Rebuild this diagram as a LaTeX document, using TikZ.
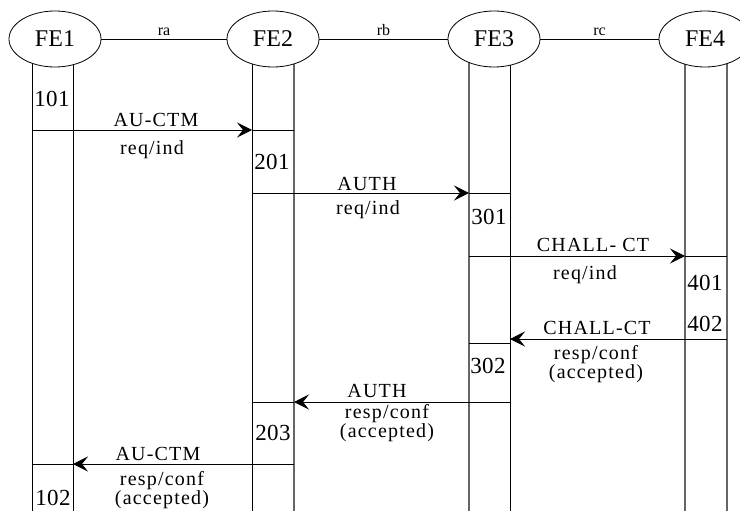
\documentclass[tikz,border=0pt]{standalone}
\usepackage{fontspec}
\setmainfont{Liberation Serif}
\newfontfamily\spacedfont{Liberation Serif}[LetterSpace=6]
\newfontfamily\numfont{Liberation Serif}[LetterSpace=2]
\usetikzlibrary{arrows.meta,shapes.geometric}
\tikzset{
  fe/.style={ellipse,draw,line width=0.8pt,fill=white,minimum width=92pt,minimum height=56pt,inner sep=0pt,font=\fontsize{24}{24}\selectfont},
  life/.style={line width=0.9pt},
  lifeg/.style={line width=1.1pt,draw=black!60},
  link/.style={line width=0.8pt},
  msg/.style={line width=0.9pt,-{Stealth[length=15pt,width=15pt,inset=6pt]}},
  tick/.style={line width=0.9pt},
  lbl/.style={inner sep=0pt,font=\spacedfont\fontsize{20}{17}\selectfont,align=center},
  num/.style={inner sep=0pt,font=\numfont\fontsize{23}{23}\selectfont},
  rlbl/.style={inner sep=0pt,font=\fontsize{16}{16}\selectfont},
}
\begin{document}
\begin{tikzpicture}[x=1pt,y=-1pt]
\useasboundingbox (0,0) rectangle (740,511);
% lifeline endpoints
\foreach \n/\l/\r in {1/32/73,2/252/294,3/469/510,4/685/727}{
  \coordinate (t\n L) at (\l,50); \coordinate (b\n L) at (\l,511);
  \coordinate (t\n R) at (\r,50); \coordinate (b\n R) at (\r,511);
}
\draw[life] (t1L) -- (b1L); \draw[life] (t1R) -- (b1R);
\draw[life] (t2L) -- (b2L); \draw[lifeg] (t2R) -- (b2R);
\draw[lifeg] (t3L) -- (b3L); \draw[life] (t3R) -- (b3R);
\draw[lifeg] (t4L) -- (b4L); \draw[lifeg] (t4R) -- (b4R);
% entities
\node[fe] (fe1) at (55,39) {FE1};
\node[fe] (fe2) at (273,39) {FE2};
\node[fe] (fe3) at (494,39) {FE3};
\node[fe] (fe4) at (705,39) {FE4};
\draw[link] (fe1) -- node[rlbl,above=3pt] {ra} (fe2);
\draw[link] (fe2) -- node[rlbl,above=3pt] {rb} (fe3);
\draw[link] (fe3) -- node[rlbl,above=3pt] {rc} (fe4);
% message points
\foreach \y/\k in {130/a,193/b,256/c,339/d,343/e,402/f,464/g}{
  \coordinate (\k1L) at (32,\y);  \coordinate (\k1R) at (73,\y);
  \coordinate (\k2L) at (252,\y); \coordinate (\k2R) at (294,\y);
  \coordinate (\k3L) at (469,\y); \coordinate (\k3R) at (510,\y);
  \coordinate (\k4L) at (685,\y); \coordinate (\k4R) at (727,\y);
}
% m1
\draw[tick] (a1L) -- (a1R); \draw[msg] (a1R) -- (a2L); \draw[tick] (a2L) -- (a2R);
% m2
\draw[msg] (b2L) -- (b3L); \draw[tick] (b3L) -- (b3R);
% m3
\draw[tick] (c3L) -- (c3R); \draw[msg] (c3R) -- (c4L); \draw[tick] (c4L) -- (c4R);
% m4
\draw[msg] (d4R) -- (d3R); \draw[tick] (e3L) -- (e3R);
% m5
\draw[msg] (f3R) -- (f2R); \draw[tick] (f2L) -- (f2R);
% m6
\draw[msg] (g2R) -- (g1R); \draw[tick] (g1L) -- (g1R);
% numbers
\node[num] (n101) at (52,99) {101};
\node[num] (n201) at (272,162) {201};
\node[num] (n301) at (489,217) {301};
\node[num] (n401) at (705,283) {401};
\node[num] (n402) at (705,324) {402};
\node[num] (n302) at (488,366) {302};
\node[num] (n203) at (273,433) {203};
\node[num] (n102) at (53,498) {102};
% labels
\node[lbl] (l1a) at (156,120) {AU-CTM};
\node[lbl] (l1b) at (152,150) {req/ind};
\node[lbl] (l2a) at (367,184) {AUTH};
\node[lbl] (l2b) at (368,210) {req/ind};
\node[lbl] (l3a) at (593,245) {CHALL- CT};
\node[lbl] (l3b) at (585,275) {req/ind};
\node[lbl] (l4a) at (597,328) {CHALL-CT};
\node[lbl] (l4b) at (596,364) {resp/conf\\(accepted)};
\node[lbl] (l5a) at (377,391) {AUTH};
\node[lbl] (l5b) at (387,423) {resp/conf\\(accepted)};
\node[lbl] (l6a) at (158,454) {AU-CTM};
\node[lbl] (l6b) at (162,490) {resp/conf\\(accepted)};
\end{tikzpicture}
\end{document}
